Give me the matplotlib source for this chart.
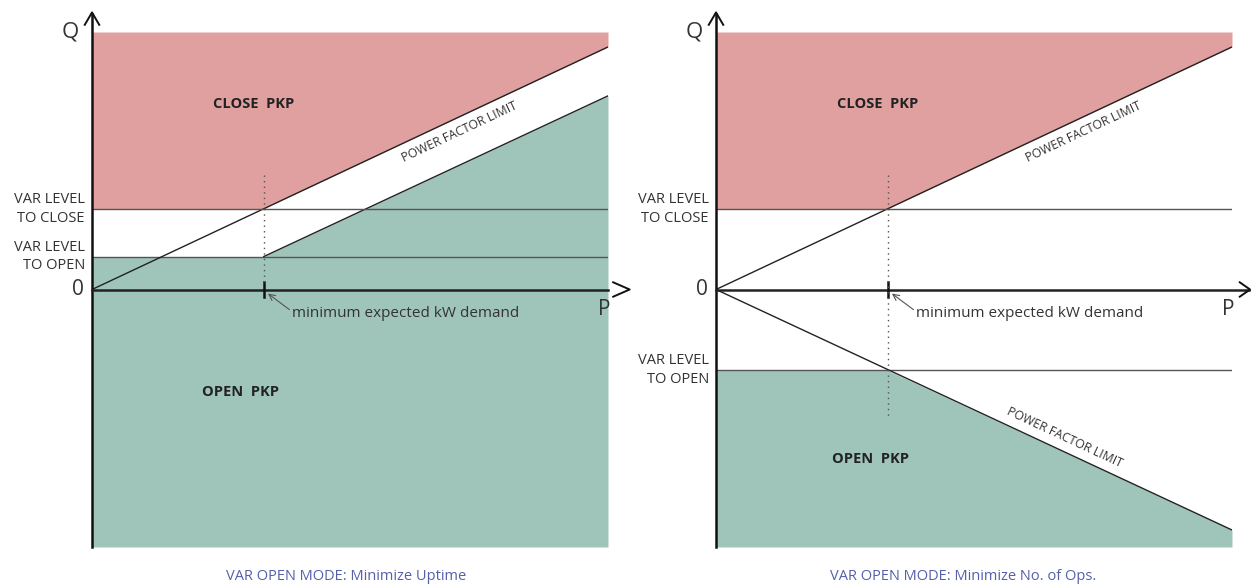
import matplotlib
matplotlib.use("Agg")
import matplotlib.pyplot as plt
import numpy as np

# ---- data (diagram units: P 0..10, Q -5..5) ----
P_END = 10.0
Q_TOP = 5.0
Q_BOT = -5.0
MIN_DEMAND = 3.33
PF_SLOPE = 0.471
VAR_CLOSE = 1.57
VAR_OPEN_LEFT = 0.64
PF2_END_LEFT = 3.76          # end of the shifted PF limit line (left panel)
VAR_OPEN_RIGHT = -1.57
PF_LOW_END_RIGHT = -4.67
panel_titles = ["VAR OPEN MODE: Minimize Uptime", "VAR OPEN MODE: Minimize No. of Ops."]

RED = "#E0A0A0"
GREEN = "#9FC4BA"
TXT = "#333333"
CAP = "#5560AA"
FONT = "Open Sans"

W, H = 1253, 586
fig = plt.figure(figsize=(W / 100, H / 100), dpi=100)

def make_ax(left_px):
    ax = fig.add_axes([left_px / W, (H - 547) / H, 516 / W, 515 / H])
    ax.set_xlim(0, P_END)
    ax.set_ylim(Q_BOT, Q_TOP)
    ax.axis("off")
    return ax

def common(ax, dotted_bottom, arrow_connected):
    ax.plot([0, P_END], [0, PF_SLOPE * P_END], color="#222222", lw=1.0, solid_capstyle="butt")
    ax.plot([0, P_END], [VAR_CLOSE, VAR_CLOSE], color="#555555", lw=1.0)
    ax.plot([0, 0], [Q_BOT, 5.35], color="#111111", lw=1.8, clip_on=False)
    ax.plot([-0.14, 0, 0.14], [5.14, 5.38, 5.14], color="#111111", lw=1.4, clip_on=False)
    if arrow_connected:
        ax.plot([0, 10.33], [0, 0], color="#222222", lw=1.8, clip_on=False)
        ax.plot([10.15, 10.35, 10.15], [0.14, 0, -0.14], color="#111111", lw=1.4, clip_on=False)
    else:
        ax.plot([0, P_END], [0, 0], color="#222222", lw=1.8, clip_on=False)
        ax.plot([10.1, 10.42, 10.1], [0.14, 0, -0.14], color="#111111", lw=1.4, clip_on=False)
    ax.plot([MIN_DEMAND, MIN_DEMAND], [-0.15, 0.14], color="#111111", lw=1.8)
    ax.plot([MIN_DEMAND, MIN_DEMAND], [2.23, dotted_bottom], color="#555555", lw=1.0,
            ls=(0, (1, 3)))
    ax.annotate("minimum expected kW demand", xy=(MIN_DEMAND + 0.08, -0.08),
                xytext=(MIN_DEMAND + 0.55, -0.46), fontsize=11, color=TXT, family=FONT,
                va="center", ha="left",
                arrowprops=dict(arrowstyle="->", color="#555555", lw=0.8,
                                shrinkA=0, shrinkB=0, relpos=(0, 0.6)))
    ax.text(-0.42, 5.0, "Q", fontsize=16, color=TXT, family=FONT, ha="center", va="center")
    ax.text(-0.28, 0.0, "0", fontsize=15, color=TXT, family=FONT, ha="center", va="center")
    ax.text(9.93, -0.39, "P", fontsize=15, color=TXT, family=FONT, ha="center", va="center")
    ax.text(-0.14, VAR_CLOSE, "VAR LEVEL\nTO CLOSE", fontsize=10.5, color=TXT, family=FONT,
            ha="right", va="center", linespacing=1.35)
    ax.text(3.14, 3.6, "CLOSE  PKP", fontsize=10.5, fontweight="bold", color="#222222",
            family=FONT, ha="center", va="center")
    ang = np.degrees(np.arctan(PF_SLOPE))
    ax.text(7.12, 3.06, "POWER FACTOR LIMIT", fontsize=8.8, color=TXT, family=FONT,
            ha="center", va="center", rotation=ang, rotation_mode="anchor")

# ---------------- left panel ----------------
axL = make_ax(92)
pts = np.array([0, MIN_DEMAND, P_END])
axL.fill_between(pts, [VAR_CLOSE, VAR_CLOSE, PF_SLOPE * P_END], Q_TOP, color=RED, lw=0)
axL.fill_between(pts, Q_BOT, [VAR_OPEN_LEFT, VAR_OPEN_LEFT, PF2_END_LEFT], color=GREEN, lw=0)
axL.plot([0, P_END], [VAR_OPEN_LEFT, VAR_OPEN_LEFT], color="#555555", lw=1.0)
axL.plot([MIN_DEMAND, P_END], [VAR_OPEN_LEFT, PF2_END_LEFT], color="#222222", lw=1.0)
common(axL, 0.1, False)
axL.text(-0.14, VAR_OPEN_LEFT, "VAR LEVEL\nTO OPEN", fontsize=10.5, color=TXT, family=FONT,
         ha="right", va="center", linespacing=1.35)
axL.text(2.87, -2.0, "OPEN  PKP", fontsize=10.5, fontweight="bold", color="#222222",
         family=FONT, ha="center", va="center")

# ---------------- right panel ----------------
axR = make_ax(716)
axR.fill_between(pts, [VAR_CLOSE, VAR_CLOSE, PF_SLOPE * P_END], Q_TOP, color=RED, lw=0)
axR.fill_between(pts, Q_BOT, [VAR_OPEN_RIGHT, VAR_OPEN_RIGHT, PF_LOW_END_RIGHT], color=GREEN, lw=0)
axR.plot([0, P_END], [VAR_OPEN_RIGHT, VAR_OPEN_RIGHT], color="#555555", lw=1.0)
axR.plot([0, P_END], [0, PF_LOW_END_RIGHT], color="#222222", lw=1.0)
common(axR, -2.48, True)
axR.text(-0.14, VAR_OPEN_RIGHT, "VAR LEVEL\nTO OPEN", fontsize=10.5, color=TXT, family=FONT,
         ha="right", va="center", linespacing=1.35)
axR.text(3.0, -3.3, "OPEN  PKP", fontsize=10.5, fontweight="bold", color="#222222",
         family=FONT, ha="center", va="center")
ang2 = np.degrees(np.arctan(PF_LOW_END_RIGHT / P_END))
axR.text(6.75, -2.88, "POWER FACTOR LIMIT", fontsize=8.8, color=TXT, family=FONT,
         ha="center", va="center", rotation=ang2, rotation_mode="anchor")

fig.text(346 / W, 1 - 577 / H, panel_titles[0], fontsize=10.5, color=CAP, family=FONT,
         fontweight="medium", ha="center", va="center")
fig.text(963 / W, 1 - 577 / H, panel_titles[1], fontsize=10.5, color=CAP, family=FONT,
         fontweight="medium", ha="center", va="center")

fig.savefig("out.png", dpi=100)
